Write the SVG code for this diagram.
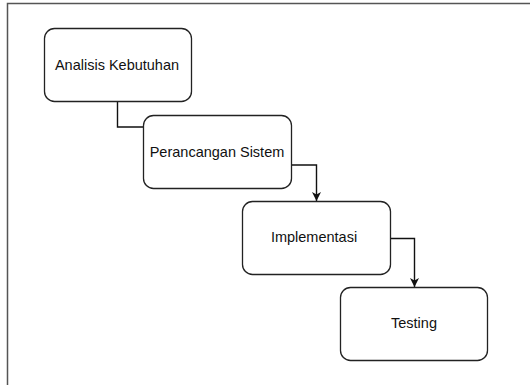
<svg xmlns="http://www.w3.org/2000/svg" width="530" height="385" viewBox="0 0 530 385">
<style>
.box{fill:#fff;stroke:#222;stroke-width:1.3}
.lbl{font-family:"Liberation Sans",Arial,sans-serif;font-size:14.5px;fill:#111;text-anchor:middle}
.edge{fill:none;stroke:#111;stroke-width:1.4}
.frame{fill:none;stroke:#555;stroke-width:1.5}
</style>
<defs>
<marker id="arr" markerWidth="12" markerHeight="12" refX="10" refY="6" orient="auto" markerUnits="userSpaceOnUse">
<path d="M1,1.5 L10,6 L1,10.5 L3.5,6 Z" fill="#111"/>
</marker>
</defs>
<rect width="530" height="385" fill="#fff"/>
<path class="frame" d="M7.5,385 V3.5 H530"/>
<g id="connectors">
<path class="edge" d="M117.5,102 V127 H143"/>
<path class="edge" d="M291,165 H316.5 V201" marker-end="url(#arr)"/>
<path class="edge" d="M390,238.5 H414.5 V287" marker-end="url(#arr)"/>
</g>
<g id="analisis">
<rect class="box" x="44.5" y="28.5" width="147" height="73" rx="10"/>
<text class="lbl" x="117" y="70">Analisis Kebutuhan</text>
</g>
<g id="perancangan">
<rect class="box" x="143.5" y="115.5" width="148" height="73" rx="10"/>
<text class="lbl" x="217" y="157">Perancangan Sistem</text>
</g>
<g id="implementasi">
<rect class="box" x="242.5" y="201.5" width="148" height="73" rx="10"/>
<text class="lbl" x="314" y="242">Implementasi</text>
</g>
<g id="testing">
<rect class="box" x="340.5" y="287.5" width="147" height="73" rx="10"/>
<text class="lbl" x="414" y="328">Testing</text>
</g>
</svg>
